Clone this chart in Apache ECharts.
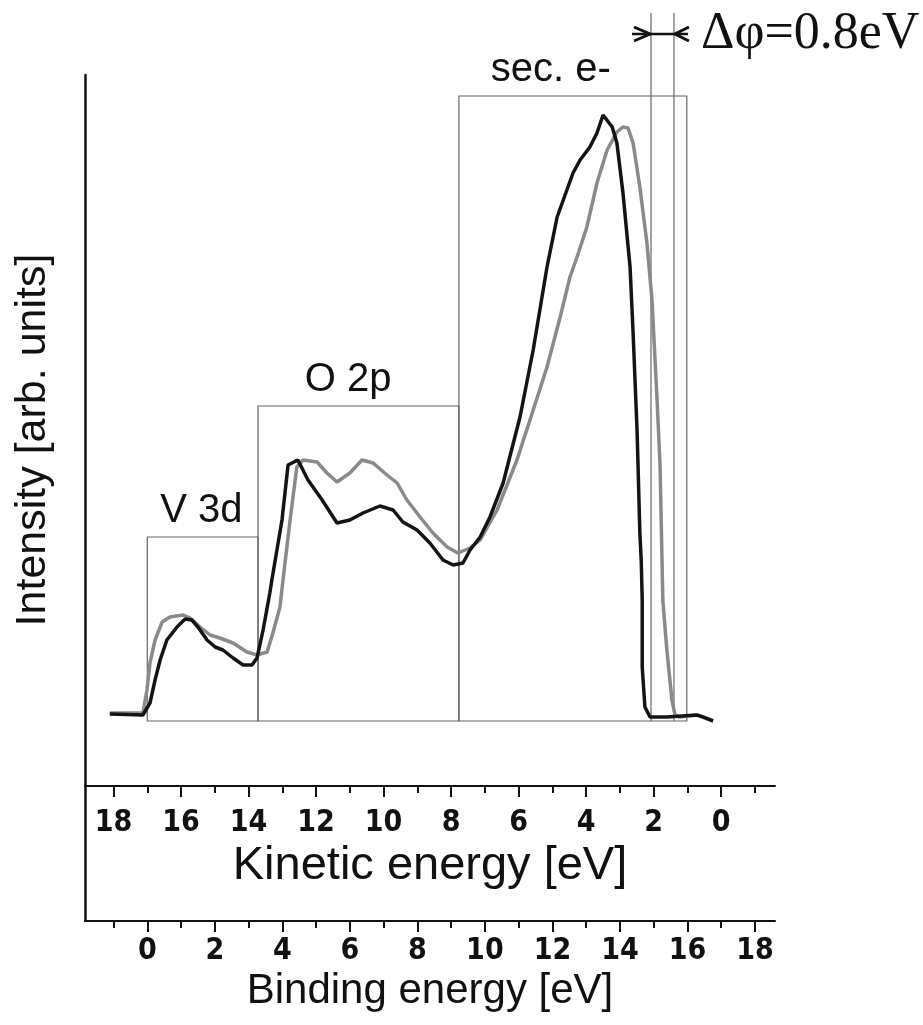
<!DOCTYPE html>
<html><head><meta charset="utf-8">
<script src="https://cdn.jsdelivr.net/npm/echarts@6/dist/echarts.min.js"></script>
<style>html,body{margin:0;padding:0;background:#fff}#c{width:923px;height:1025px}</style>
</head><body><div id="c"></div>
<script>
// ---- data (binding energy in eV, intensity in arb. units) ----
const blackBE = [-1.11,-0.13,0.08,0.23,0.38,0.58,0.88,1.12,1.32,1.50,1.77,2.01,2.24,2.54,2.84,3.10,3.25,3.43,3.63,3.69,3.99,4.17,4.46,4.76,5.18,5.62,6.00,6.39,6.89,7.28,7.57,7.99,8.37,8.76,9.06,9.35,9.56,9.86,10.15,10.54,11.04,11.43,11.84,12.14,12.61,12.82,13.11,13.32,13.50,13.77,13.91,14.09,14.30,14.39,14.51,14.59,14.63,14.66,14.66,14.74,14.89,15.39,16.28,16.46,16.76];
const blackI  = [0.72,0.71,0.83,1.06,1.26,1.46,1.59,1.67,1.66,1.59,1.46,1.39,1.36,1.28,1.21,1.21,1.28,1.56,1.93,2.06,2.66,3.21,3.26,3.06,2.86,2.63,2.66,2.73,2.80,2.76,2.64,2.56,2.43,2.26,2.21,2.23,2.36,2.49,2.69,3.03,3.69,4.36,5.19,5.69,6.13,6.26,6.39,6.53,6.71,6.59,6.43,5.93,5.19,4.53,3.53,2.53,2.26,1.86,1.19,0.79,0.69,0.69,0.71,0.69,0.65];
const grayBE  = [-1.11,-0.13,-0.01,0.08,0.23,0.44,0.67,1.06,1.27,1.56,1.86,2.15,2.54,2.95,3.25,3.55,3.72,3.93,4.02,4.23,4.43,4.61,5.03,5.32,5.62,6.00,6.36,6.69,7.10,7.40,7.69,8.08,8.46,8.88,9.20,9.56,9.86,10.36,10.95,11.43,11.84,12.23,12.52,12.73,13.02,13.32,13.62,13.91,14.09,14.24,14.39,14.59,14.80,14.95,15.10,15.19,15.27,15.39,15.54,15.63,15.78,16.28];
const grayI   = [0.73,0.73,0.96,1.23,1.46,1.64,1.69,1.71,1.68,1.59,1.51,1.48,1.43,1.34,1.31,1.34,1.53,1.79,2.06,2.66,3.19,3.26,3.24,3.13,3.04,3.13,3.26,3.23,3.11,3.03,2.86,2.69,2.53,2.39,2.33,2.38,2.46,2.76,3.26,3.76,4.19,4.69,5.09,5.29,5.59,6.03,6.36,6.54,6.59,6.58,6.43,5.99,5.43,4.86,3.86,3.19,1.86,1.36,0.86,0.71,0.69,0.71];

const regionNames  = ['V 3d', 'O 2p', 'sec. e-'];
const regionStart  = [0, 3.28, 9.23];
const regionEnd    = [3.28, 9.23, 15.98];
const regionTop    = [2.49, 3.80, 6.90];
const regionLabelX = [1.6, 5.95, 11.95];
const regionBase   = 0.65;

const wfEdges   = [14.92, 15.60];
const wfTop     = 7.73;
const wfArrowY  = 7.52;
const wfLabel   = 'Δφ=0.8eV';
const wfLabelAt = [16.4, 7.52];

const kineticMajor = [18,16,14,12,10,8,6,4,2,0];
const kineticMinor = [17,15,13,11,9,7,5,3,1,-1];
const bindingMajor = [0,2,4,6,8,10,12,14,16,18];
const bindingMinor = [-1,1,3,5,7,9,11,13,15,17];

const PHOTON_OFFSET = 17;           // kinetic = 17 - binding (axis alignment)
const BE_MIN = -1.845, BE_MAX = 18.593;
const KE_MIN = PHOTON_OFFSET - BE_MAX, KE_MAX = PHOTON_OFFSET - BE_MIN;
const Y_MIN = -1.35, Y_MAX = 7.11;

const SANS = '"Liberation Sans", Arial, sans-serif';
const NARROW = '"Liberation Sans Narrow", "Arial Narrow", "DejaVu Sans Condensed", "Liberation Sans", sans-serif';

function zip(a, b) { return a.map((v, i) => [v, b[i]]); }

const chart = echarts.init(document.getElementById('c'), null, {renderer: 'canvas'});

function kAxis(values, major) {
  return {
    type: 'value', inverse: true, min: KE_MIN, max: KE_MAX, position: 'bottom', offset: -135,
    axisLine: {show: major, onZero: false, lineStyle: {color: '#111', width: 2}},
    axisTick: {show: true, customValues: values, length: major ? 11 : 7, lineStyle: {color: '#111', width: 2}},
    axisLabel: major ? {customValues: values, margin: 22, fontSize: 30, fontWeight: 'bold', fontFamily: NARROW, color: '#111'} : {show: false},
    splitLine: {show: false},
    name: major ? 'Kinetic energy [eV]' : '', nameLocation: 'middle', nameGap: 42,
    nameTextStyle: {fontSize: 47, fontFamily: SANS, color: '#111'}
  };
}
function bAxis(values, major) {
  return {
    type: 'value', min: BE_MIN, max: BE_MAX, position: 'bottom',
    axisLine: {show: major, onZero: false, lineStyle: {color: '#111', width: 2}},
    axisTick: {show: true, customValues: values, length: major ? 11 : 7, lineStyle: {color: '#111', width: 2}},
    axisLabel: major ? {customValues: values, margin: 15, fontSize: 30, fontWeight: 'bold', fontFamily: NARROW, color: '#111'} : {show: false},
    splitLine: {show: false},
    name: major ? 'Binding energy [eV]' : '', nameLocation: 'middle', nameGap: 49,
    nameTextStyle: {fontSize: 42, fontFamily: SANS, color: '#111'}
  };
}

const option = {
  animation: false,
  backgroundColor: '#fff',
  grid: {left: 85, right: 148, top: 75, bottom: 104, containLabel: false},
  xAxis: [kAxis(kineticMajor, true), kAxis(kineticMinor, false), bAxis(bindingMajor, true), bAxis(bindingMinor, false)],
  yAxis: {
    type: 'value', min: Y_MIN, max: Y_MAX,
    axisLine: {show: true, onZero: false, lineStyle: {color: '#111', width: 2.5}},
    axisTick: {show: false}, axisLabel: {show: false}, splitLine: {show: false},
    name: 'Intensity [arb. units]', nameLocation: 'middle', nameGap: 30, nameRotate: 90,
    nameTextStyle: {fontSize: 43, fontFamily: SANS, color: '#111', padding: [0, 0, 0, 116]}
  },
  series: [
    {
      type: 'custom', name: 'regions', xAxisIndex: 2, yAxisIndex: 0, clip: false, silent: true,
      data: regionNames.map((n, i) => [regionStart[i], regionEnd[i], regionTop[i], regionLabelX[i]]),
      renderItem(params, api) {
        const p0 = api.coord([api.value(0), regionBase]);
        const p1 = api.coord([api.value(1), api.value(2)]);
        const pl = api.coord([api.value(3), api.value(2)]);
        return {type: 'group', children: [
          {type: 'rect', shape: {x: p0[0], y: p1[1], width: p1[0] - p0[0], height: p0[1] - p1[1]},
           style: {fill: 'none', stroke: '#666', lineWidth: 1.2}},
          {type: 'text', x: pl[0], y: pl[1] - 6,
           style: {text: regionNames[params.dataIndex], fontSize: 40, fontFamily: SANS, fill: '#111', align: 'center', verticalAlign: 'bottom'}}
        ]};
      }
    },
    {
      type: 'custom', name: 'workfunction', xAxisIndex: 2, yAxisIndex: 0, clip: false, silent: true,
      data: [[wfEdges[0], wfEdges[1], wfTop, wfArrowY]],
      renderItem(params, api) {
        const a0 = api.coord([api.value(0), regionBase]);
        const a1 = api.coord([api.value(0), api.value(2)]);
        const b0 = api.coord([api.value(1), regionBase]);
        const b1 = api.coord([api.value(1), api.value(2)]);
        const yA = api.coord([api.value(0), api.value(3)])[1];
        const lt = api.coord(wfLabelAt);
        const xl = a0[0] - 1, xr = b0[0] + 1;
        return {type: 'group', children: [
          {type: 'line', shape: {x1: a0[0], y1: a0[1], x2: a1[0], y2: a1[1]}, style: {stroke: '#666', lineWidth: 1.2}},
          {type: 'line', shape: {x1: b0[0], y1: b0[1], x2: b1[0], y2: b1[1]}, style: {stroke: '#666', lineWidth: 1.2}},
          {type: 'line', shape: {x1: xl - 18, y1: yA, x2: xr + 13, y2: yA}, style: {stroke: '#111', lineWidth: 2.5}},
          {type: 'polyline', shape: {points: [[xl - 16, yA - 7], [xl, yA], [xl - 16, yA + 7]]}, style: {stroke: '#111', lineWidth: 3, fill: 'none'}},
          {type: 'polyline', shape: {points: [[xr + 14, yA - 7], [xr, yA], [xr + 14, yA + 7]]}, style: {stroke: '#111', lineWidth: 3, fill: 'none'}},
          {type: 'text', x: lt[0], y: lt[1],
           style: {text: wfLabel, fontSize: 52, fontFamily: '"Liberation Serif", "Times New Roman", serif', fill: '#111', align: 'left', verticalAlign: 'middle'}}
        ]};
      }
    },
    {
      type: 'line', name: 'gray', xAxisIndex: 2, yAxisIndex: 0, data: zip(grayBE, grayI),
      showSymbol: false, symbol: 'none', smooth: false,
      lineStyle: {color: '#8a8a8a', width: 3.5}
    },
    {
      type: 'line', name: 'black', xAxisIndex: 2, yAxisIndex: 0, data: zip(blackBE, blackI),
      showSymbol: false, symbol: 'none', smooth: false,
      lineStyle: {color: '#141414', width: 3.5}
    }
  ]
};
chart.setOption(option);
</script>
</body></html>
